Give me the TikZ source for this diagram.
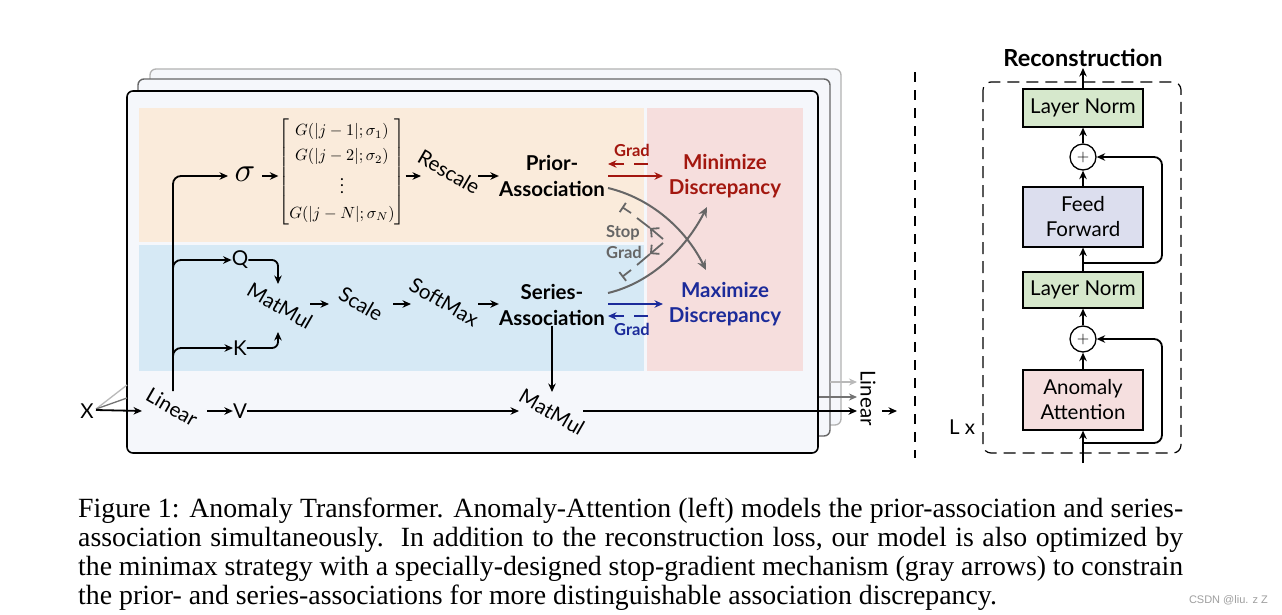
\documentclass[tikz,border=0pt]{standalone}
\usepackage{amsmath}
\usepackage{fontspec}
\setmainfont{Lato}
\newfontfamily\capfont{Liberation Serif}
\newfontfamily\wmfont{Liberation Sans}
\usetikzlibrary{arrows.meta,calc}
\definecolor{bgA}{HTML}{F5F7FB}
\definecolor{orangeBg}{HTML}{FAEBDB}
\definecolor{blueBg}{HTML}{D6E9F5}
\definecolor{pinkBg}{HTML}{F6DEDD}
\definecolor{redT}{HTML}{A3170F}
\definecolor{blueT}{HTML}{1C2B9A}
\definecolor{grayA}{HTML}{666666}
\definecolor{lnGreen}{HTML}{D6E8CC}
\definecolor{ffBlue}{HTML}{DCDEEE}
\definecolor{aaPink}{HTML}{F5DFDF}
\tikzset{
  lbl/.style={font=\fontsize{20.5}{22}\selectfont, inner sep=0pt},
  bld/.style={font=\bfseries\fontsize{20.5}{25.5}\selectfont, align=center, inner sep=0pt},
  arr/.style={line width=1.8pt, -{Stealth[length=8.5pt,width=7.5pt]}},
  garr/.style={line width=2pt, grayA, -{Stealth[length=10pt,width=9pt]}},
  sg/.style={line width=1.8pt, grayA},
  gradlbl/.style={font=\bfseries\fontsize{16.5}{18}\selectfont, inner sep=0pt},
  rbox/.style={draw, line width=1.2pt, minimum width=120pt, align=center, inner sep=0pt, font=\fontsize{20.5}{25}\selectfont},
  plusc/.style={draw, circle, line width=1.3pt, minimum size=26pt, inner sep=0pt, fill=white},
  frame/.style={rounded corners=6pt, fill=bgA},
  caplbl/.style={font=\capfont\fontsize{27.8}{29}\selectfont, inner sep=0pt, anchor=base west}
}
\begin{document}
\begin{tikzpicture}[x=1pt,y=-1pt]
\useasboundingbox (0,0) rectangle (1282,614);
\fill[white] (0,0) rectangle (1282,614);

% stacked frames
\draw[frame, draw=gray!60, line width=1.3pt] (150,69) rectangle (841,425);
\draw[frame, draw=gray!120, line width=1.4pt] (138,79) rectangle (830,436);
\draw[frame, draw=black, line width=1.6pt] (127,91) rectangle (818,453);

% regions
\fill[orangeBg] (139,108) rectangle (644,242);
\fill[blueBg] (139,245) rectangle (644,371);
\fill[pinkBg] (647,108) rectangle (803,371);

% nodes
\node[lbl] (X) at (87,411) {X};
\node[lbl, rotate=-30] (lin) at (172,407) {Linear};
\node[lbl] (V) at (240,411) {V};
\node[lbl] (Q) at (240,260) {Q};
\node[lbl] (K) at (240,348) {K};
\node[lbl, rotate=-30] (mm1) at (280,306) {MatMul};
\node[lbl, rotate=-30] (scale) at (361,304) {Scale};
\node[lbl, rotate=-30] (soft) at (444,302) {SoftMax};
\node[bld] (series) at (552,305) {Series-\\Association};
\node[bld] (prior) at (552,176) {Prior-\\Association};
\node[inner sep=0pt] (sigma) at (245,174) {\scalebox{3.4}{$\sigma$}};
\node[inner sep=0pt] (mat) at (342,172) {\scalebox{1.62}{\renewcommand\arraystretch{1.3}$\begin{bmatrix} G(|j-1|;\sigma_1)\\ G(|j-2|;\sigma_2)\\ \vdots\\ G(|j-N|;\sigma_N)\end{bmatrix}$}};
\node[lbl, rotate=-30] (resc) at (449,172) {Rescale};
\node[bld, text=redT] (minD) at (725,176) {Minimize\\Discrepancy};
\node[bld, text=blueT] (maxD) at (725,304) {Maximize\\Discrepancy};
\node[lbl, rotate=-30] (mm2) at (552,412) {MatMul};
\node[lbl, rotate=-90] (lin2) at (868,398) {Linear};

% coordinates
\coordinate (trunk) at (173,391);
\coordinate (linIn) at (142,411);
\coordinate (linOut) at (207,411);
\coordinate (mm1Top) at (278,284);
\coordinate (mm1Bot) at (278,332);
\coordinate (mm1Out) at (310,304);
\coordinate (scIn) at (329,304);
\coordinate (scOut) at (393,304);
\coordinate (smIn) at (411,304);
\coordinate (smOut) at (478,304);
\coordinate (resIn) at (421,176);
\coordinate (resOut) at (478,176);
\coordinate (mm2In) at (519,411);
\coordinate (mm2Top) at (552,392);
\coordinate (mm2Out) at (583,411);
\coordinate (lin2In) at (857,411);
\coordinate (lin2Out) at (882,411);
\coordinate (outEnd) at (897,411);

% X inputs
\draw[line width=1.3pt, gray!55] (96,409) -- (127,385);
\draw[line width=1.3pt, gray!110] (96,409) -- (127,398);
\draw[arr] (96,410) -- (linIn);
\draw[arr] (linOut) -- (V.west);
\draw[arr, rounded corners=8pt] (trunk) -- (173,176) -- (228,176);
\draw[arr, rounded corners=8pt] (173,285) |- (Q.west);
\draw[arr, rounded corners=8pt] (173,370) |- (K.west);
\draw[arr, rounded corners=6pt] (Q.east) -| (mm1Top);
\draw[arr, rounded corners=6pt] (K.east) -| (mm1Bot);
\draw[arr] (mm1Out) -- (scIn);
\draw[arr] (scOut) -- (smIn);
\draw[arr] (smOut) -- (series.west |- smOut);
\draw[arr] (262,176) -- (mat.west |- 0,176);
\draw[arr] (mat.east |- 0,176) -- (resIn);
\draw[arr] (resOut) -- (prior.west |- resOut);
\draw[arr] (V.east) -- (mm2In);
\draw[arr] (series.south) -- (mm2Top);
\draw[arr] (mm2Out) -- (lin2In);
\draw[line width=1.5pt, gray!55, -{Stealth[length=8pt,width=7pt]}] (830,382) -- (857,382);
\draw[line width=1.5pt, gray!110, -{Stealth[length=8pt,width=7pt]}] (819,397) -- (857,397);
\draw[arr] (lin2Out) -- (outEnd);

% grad arrows
\draw[line width=1.8pt, redT, -{Stealth[length=8.5pt,width=7.5pt]}] (608,176) -- (663,176);
\draw[line width=1.8pt, redT, dash pattern=on 14pt off 10pt, -{Stealth[length=8.5pt,width=7.5pt]}] (648,164) -- (608,164);
\node[gradlbl, text=redT] (gr1) at (632,150) {Grad};
\draw[line width=1.8pt, blueT, -{Stealth[length=8.5pt,width=7.5pt]}] (608,304) -- (663,304);
\draw[line width=1.8pt, blueT, dash pattern=on 14pt off 10pt, -{Stealth[length=8.5pt,width=7.5pt]}] (648,316) -- (608,316);
\node[gradlbl, text=blueT] (gr2) at (632,329) {Grad};

% gray crossing curves
\draw[garr] (608,188) .. controls (650,198) and (685,228) .. (706,270);
\draw[garr] (608,293) .. controls (650,283) and (685,250) .. (707,207);

% stop gradient
\draw[sg, -{Straight Barb[length=6pt,width=12pt]}] (663,239) -- (650,228);
\draw[sg] (650,228) -- (637,218);
\draw[sg, -{Bar[width=11pt]}] (631,213) -- (622,207);
\draw[sg, -{Straight Barb[length=6pt,width=12pt]}] (663,243) -- (650,254);
\draw[sg] (650,254) -- (637,265);
\draw[sg, -{Bar[width=11pt]}] (631,270) -- (622,277);
\node[gradlbl, text=grayA] (stop) at (623,233) {Stop};
\node[gradlbl, text=grayA] (sgr) at (624,252) {Grad};

% separator
\draw[line width=2.4pt, dash pattern=on 10pt off 8pt] (915,72) -- (915,458);

% right panel
\draw[line width=1.2pt, dash pattern=on 12pt off 7pt, rounded corners=8pt] (983,82) rectangle (1181,453);
\node[font=\bfseries\fontsize{23.5}{25}\selectfont, inner sep=0pt] (rec) at (1083,58) {Reconstruction};
\node[rbox, fill=lnGreen, minimum height=38pt] (ln1) at (1083,108) {Layer Norm};
\node[plusc] (p1) at (1083,157) {\scalebox{1.6}{$+$}};
\node[rbox, fill=ffBlue, minimum height=60pt] (ff) at (1083,217) {Feed\\Forward};
\node[rbox, fill=lnGreen, minimum height=36pt] (ln2) at (1083,290) {Layer Norm};
\node[plusc] (p2) at (1083,339) {\scalebox{1.6}{$+$}};
\node[rbox, fill=aaPink, minimum height=60pt] (aa) at (1083,400) {Anomaly\\Attention};
\node[lbl] (Lx) at (962,427) {L x};
\coordinate (inBot) at (1083,463);
\coordinate (recIn) at (1083,68);
\draw[arr] (inBot) -- (aa.south);
\draw[arr] (aa.north) -- (p2.south);
\draw[arr] (p2.north) -- (ln2.south);
\draw[arr] (ln2.north) -- (ff.south);
\draw[arr] (ff.north) -- (p1.south);
\draw[arr] (p1.north) -- (ln1.south);
\draw[arr] (ln1.north) -- (recIn);
\draw[arr, rounded corners=8pt] (1083,443) -| (1162,339) -- (p2.east);
\draw[arr, rounded corners=8pt] (1083,263) -| (1162,157) -- (p1.east);

% caption
\node[caplbl] (c1) at (78,517) {\makebox[1105pt][s]{Figure 1: Anomaly Transformer. Anomaly-Attention (left) models the prior-association and series-}};
\node[caplbl] (c2) at (78,546) {\makebox[1105pt][s]{association simultaneously.\ \ In addition to the reconstruction loss, our model is also optimized by}};
\node[caplbl] (c3) at (78,575) {\makebox[1105pt][s]{the minimax strategy with a specially-designed stop-gradient mechanism (gray arrows) to constrain}};
\node[caplbl] (c4) at (78,604) {the prior- and series-associations for more distinguishable association discrepancy.};
\node[font=\wmfont\fontsize{11}{12}\selectfont, text=gray!75, inner sep=0pt, anchor=east] (wm) at (1268,600) {CSDN @liu. z Z};
\end{tikzpicture}
\end{document}
